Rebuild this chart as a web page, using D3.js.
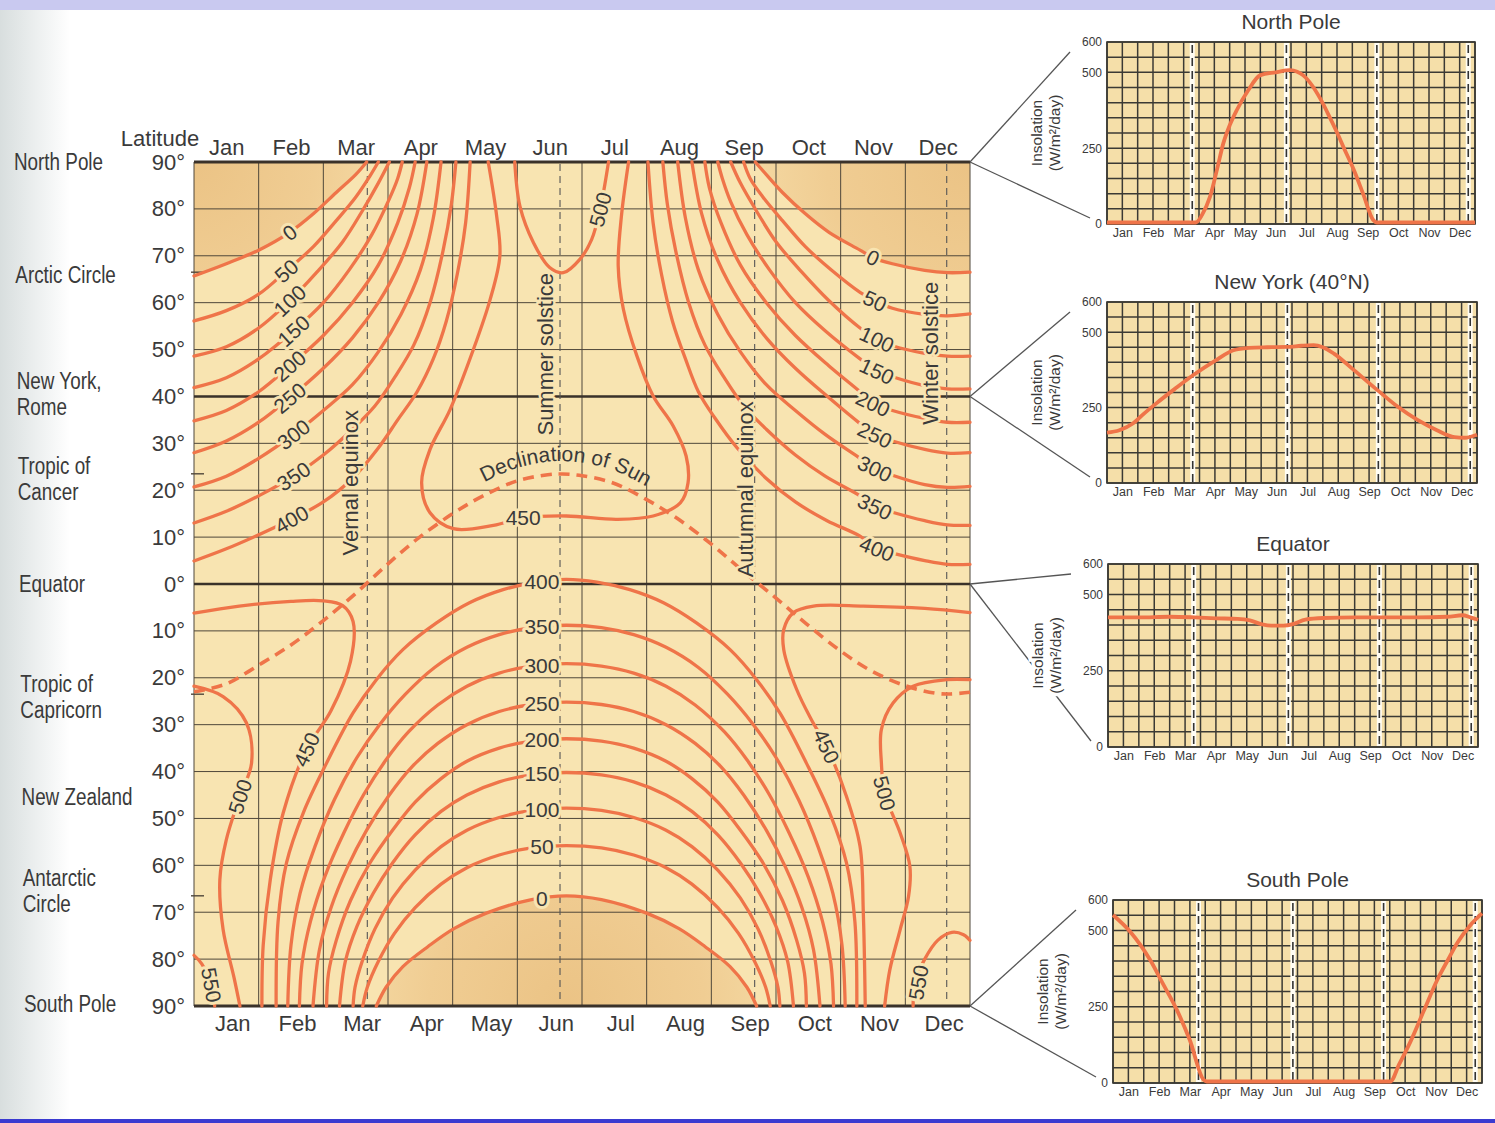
<!DOCTYPE html>
<html>
<head>
<meta charset="utf-8">
<script src="https://cdn.jsdelivr.net/npm/d3@7"></script>
<style>
  body { margin: 0; background: #fff; }
  svg text { font-family: "Liberation Sans", Arial, Helvetica, sans-serif; }
</style>
</head>
<body>
<div id="app"></div>
<script>
const W = 1495, H = 1123;

// ---- data ---------------------------------------------------------------
const monthNames = ["Jan","Feb","Mar","Apr","May","Jun","Jul","Aug","Sep","Oct","Nov","Dec"];
const latTicks = d3.range(90, -91, -10);
const keyDates = [2.68, 5.66, 8.67, 11.64];        // equinoxes / solstices (months)
const smallKeyDates = [2.78, 5.85, 8.8, 11.78];
const circleTicks = [66.5, 23.5, -23.5, -66.5];

const places = [
  [90, ["North Pole"]], [66, ["Arctic Circle"]], [40.5, ["New York,", "Rome"]],
  [22.5, ["Tropic of", "Cancer"]], [0, ["Equator"]], [-24, ["Tropic of", "Capricorn"]],
  [-45.3, ["New Zealand"]], [-65.5, ["Antarctic", "Circle"]], [-89.6, ["South Pole"]]
];

const events = [
  ["Vernal equinox", 2.41, 21.6], ["Summer solstice", 5.43, 49],
  ["Autumnal equinox", 8.52, 20.2], ["Winter solstice", 11.38, 49.2]
];

// declination of the sun [month, deg]
const declination = [[0,-23],[0.5,-21.3],[1,-17.3],[1.5,-13],[2,-7.8],[2.5,-2],[3,4.3],[3.47,9.8],
  [4,15],[4.47,18.8],[5,22],[5.47,23.3],[5.7,23.45],[6,23.1],[6.47,21.6],[7,18],[7.47,14],[8,8.5],
  [8.47,3],[9,-3],[9.47,-8.5],[10,-14.3],[10.47,-18.5],[11,-21.7],[11.47,-23.3],[11.7,-23.45],[12,-23.1]];

// contours [level, [[month, lat], ...]]
const northSpring = [
  [0,   [[0,65.7],[0.5,68.3],[1.0,71.2],[1.48,75],[1.85,79],[2.2,83.5],[2.5,87.3],[2.67,90]]],
  [50,  [[0,56.1],[0.5,58.3],[1.0,61.8],[1.43,66.8],[1.85,72],[2.2,77.5],[2.5,82.5],[2.72,87],[2.85,90]]],
  [100, [[0,48.6],[0.5,50.6],[1.0,54.6],[1.48,60.4],[1.9,66.5],[2.3,73],[2.6,79.5],[2.85,85.5],[3.02,90]]],
  [150, [[0,41.9],[0.5,44],[1.0,48],[1.54,54],[2.0,60],[2.4,67],[2.75,74.5],[3.0,81.5],[3.15,86.5],[3.22,90]]],
  [200, [[0,34.8],[0.5,37],[1.0,41],[1.48,46.5],[2.0,53],[2.45,60],[2.85,68],[3.15,77],[3.33,84.5],[3.42,90]]],
  [250, [[0,28],[0.5,30.5],[1.0,34.5],[1.48,39.7],[2.0,46],[2.45,52.5],[2.85,60],[3.2,69],[3.45,79],[3.6,90]]],
  [300, [[0,20.7],[0.5,23],[1.0,26.8],[1.54,31.9],[2.0,37],[2.45,42.5],[2.85,49.5],[3.2,57.5],[3.5,67],[3.7,78],[3.82,90]]],
  [350, [[0,13],[0.5,15.5],[1.0,18.8],[1.54,23],[2.0,27.5],[2.45,33],[2.8,38],[3.1,44],[3.4,51],[3.65,60],[3.85,71],[3.98,81],[4.05,90]]],
  [400, [[0,4.9],[0.5,7.5],[1.0,10.5],[1.51,13.8],[2.0,17.5],[2.45,22.5],[2.85,29],[3.15,35],[3.45,41],[3.7,48],[3.9,56],[4.07,66],[4.2,77],[4.27,90]]]
];

const northAutumn = [
  [0,   [[8.68,90],[8.85,87.3],[9.1,83.5],[9.45,79],[9.82,75],[10.3,71.2],[10.5,69.6],[10.8,68.3],[11.3,66.9],[11.65,66.4],[12,66.5]]],
  [50,  [[8.5,90],[8.6,86.5],[8.8,82.5],[9.1,77.5],[9.45,72],[9.87,66.8],[10.3,62.2],[10.53,60.4],[10.8,58.8],[11.3,57.5],[11.65,57.2],[12,57.6]]],
  [100, [[8.3,90],[8.45,85.5],[8.7,79.5],[9.0,73],[9.4,66.5],[9.82,60.4],[10.3,54.6],[10.56,52.2],[10.8,50.8],[11.3,49.2],[11.65,48.6],[12,48.6]]],
  [150, [[8.1,90],[8.17,86.5],[8.3,81.5],[8.55,74.5],[8.9,67],[9.3,60],[9.76,54],[10.3,48],[10.56,45.4],[10.8,44.2],[11.3,42.3],[11.65,41.6],[12,41.6]]],
  [200, [[7.9,90],[7.97,84.5],[8.15,77],[8.45,68],[8.85,60],[9.3,53],[9.82,46.5],[10.3,41],[10.5,38.5],[10.8,37],[11.3,35.3],[11.65,34.5],[12,34.5]]],
  [250, [[7.7,90],[7.85,79],[8.1,69],[8.45,60],[8.85,52.5],[9.3,46],[9.82,39.7],[10.3,34.2],[10.53,31.8],[10.8,30.5],[11.3,28.7],[11.65,27.9],[12,28]]],
  [300, [[7.48,90],[7.6,78],[7.8,67],[8.1,57.5],[8.45,49.5],[8.85,42.5],[9.3,37],[9.76,31.9],[10.3,26.8],[10.53,24.6],[10.8,23.2],[11.3,21.2],[11.65,20.6],[12,20.8]]],
  [350, [[7.25,90],[7.32,81],[7.45,71],[7.65,60],[7.9,51],[8.2,44],[8.5,38],[8.85,33],[9.3,27.5],[9.76,23],[10.3,18.8],[10.53,16.5],[10.8,15.3],[11.3,13.5],[11.65,12.6],[12,12.5]]],
  [400, [[7.02,90],[7.1,77],[7.23,66],[7.4,56],[7.6,48],[7.8,41],[8.05,35.5],[8.4,29],[8.85,22.5],[9.3,17.5],[9.79,13.5],[10.3,10.2],[10.56,7.5],[10.8,6.6],[11.3,5],[11.65,4.2],[12,4.2]]]
];

const northSummer = [
  [450, [[4.55,90],[4.68,78.5],[4.73,70],[4.58,60.7],[4.32,50],[3.96,37.2],[3.65,28.7],[3.52,21.6],[3.65,15.2],
         [4.01,11.8],[4.63,12.5],[5.09,14.1],[5.76,14.5],[6.54,13.8],[7.1,14.5],[7.52,17.3],[7.64,21.6],[7.61,27.3],
         [7.41,33.7],[7.1,40.1],[6.85,48.6],[6.64,58.6],[6.56,67.8],[6.61,78.5],[6.72,90]]],
  [500, [[4.96,90],[5.04,80.6],[5.25,72.8],[5.5,67.5],[5.71,66.4],[5.97,69.3],[6.15,73.5],[6.28,79.9],[6.41,90]]]
];

// southern arches: left leg (bottom -> top) and right leg (top -> bottom)
const archLevels = [0, 50, 100, 150, 200, 250, 300, 350, 400];
const archLeft = [
  [[2.82,-90],[2.97,-86],[3.23,-81.6],[3.62,-77.3],[4.02,-73.5],[4.52,-70.2],[5.22,-67.3]],
  [[2.61,-90],[2.68,-86],[2.85,-80.5],[3.1,-74.5],[3.42,-69],[3.82,-64],[4.22,-60.5],[4.72,-57.8],[5.22,-56.3]],
  [[2.46,-90],[2.49,-86],[2.6,-80.5],[2.8,-73.5],[3.07,-67],[3.42,-61],[3.82,-56],[4.22,-52.5],[4.72,-49.8],[5.22,-48.3]],
  [[2.25,-90],[2.34,-80.5],[2.52,-73],[2.77,-66],[3.07,-59.5],[3.42,-53.5],[3.82,-48.5],[4.22,-45],[4.72,-42.2],[5.22,-40.7]],
  [[2.05,-90],[2.08,-83],[2.2,-76],[2.42,-67.5],[2.72,-59.5],[3.07,-52.5],[3.42,-46.5],[3.82,-41.5],[4.22,-37.8],[4.72,-35],[5.22,-33.5]],
  [[1.84,-90],[1.94,-78],[2.12,-69],[2.37,-60.5],[2.67,-52.5],[3.02,-45],[3.37,-39],[3.77,-34],[4.22,-30],[4.72,-27.2],[5.22,-25.7]],
  [[1.63,-90],[1.67,-81],[1.8,-72],[2.02,-62.5],[2.32,-53],[2.62,-45],[2.97,-37.5],[3.32,-31.5],[3.77,-25.8],[4.22,-21.8],[4.72,-19],[5.22,-17.5]],
  [[1.45,-90],[1.5,-77],[1.64,-66],[1.87,-56],[2.17,-46],[2.52,-37],[2.87,-30],[3.27,-23.5],[3.72,-17.8],[4.22,-13.5],[4.72,-10.8],[5.22,-9.3]],
  [[1.27,-90],[1.3,-72],[1.43,-59.5],[1.69,-48.8],[2.05,-38.2],[2.46,-27.5],[2.82,-20.4],[3.23,-14],[3.75,-8.3],[4.26,-4],[4.78,-1.2],[5.29,0.4]]
];
const archRight = [
  [[5.76,-66.5],[6.3,-67.3],[7.0,-70.2],[7.5,-73.5],[7.9,-77.3],[8.29,-81.6],[8.55,-86],[8.7,-90]],
  [[5.76,-55.8],[6.3,-56.3],[6.8,-57.8],[7.3,-60.5],[7.7,-64],[8.1,-69],[8.42,-74.5],[8.67,-80.5],[8.84,-86],[8.91,-90]],
  [[5.76,-47.8],[6.3,-48.3],[6.8,-49.8],[7.3,-52.5],[7.7,-56],[8.1,-61],[8.45,-67],[8.72,-73.5],[8.92,-80.5],[9.03,-86],[9.06,-90]],
  [[5.76,-40.2],[6.3,-40.7],[6.8,-42.2],[7.3,-45],[7.7,-48.5],[8.1,-53.5],[8.45,-59.5],[8.75,-66],[9.0,-73],[9.18,-80.5],[9.27,-90]],
  [[5.76,-33],[6.3,-33.5],[6.8,-35],[7.3,-37.8],[7.7,-41.5],[8.1,-46.5],[8.45,-52.5],[8.8,-59.5],[9.1,-67.5],[9.32,-76],[9.44,-83],[9.47,-90]],
  [[5.76,-25.2],[6.3,-25.7],[6.8,-27.2],[7.3,-30],[7.75,-34],[8.15,-39],[8.5,-45],[8.85,-52.5],[9.15,-60.5],[9.4,-69],[9.58,-78],[9.68,-90]],
  [[5.76,-17],[6.3,-17.5],[6.8,-19],[7.3,-21.8],[7.75,-25.8],[8.2,-31.5],[8.55,-37.5],[8.9,-45],[9.2,-53],[9.5,-62.5],[9.72,-72],[9.85,-81],[9.89,-90]],
  [[5.76,-8.8],[6.3,-9.3],[6.8,-10.8],[7.3,-13.5],[7.8,-17.8],[8.25,-23.5],[8.65,-30],[9.0,-37],[9.35,-46],[9.65,-56],[9.88,-66],[10.02,-77],[10.07,-90]],
  [[5.76,1],[6.23,0.4],[6.74,-1.2],[7.26,-4],[7.77,-8.3],[8.29,-14],[8.7,-20.4],[9.06,-27.5],[9.47,-38.2],[9.83,-48.8],[10.09,-59.5],[10.22,-72],[10.25,-90]]
];

const southSummer = [
  [450, [[0,-6.2],[0.7,-4.7],[1.5,-3.7],[2.0,-3.6],[2.3,-4.6],[2.46,-8],[2.42,-16.5],[2.12,-27],[1.74,-35.3],[1.38,-48.8],[1.18,-63],[1.07,-77],[1.05,-90]]],
  [450, [[12,-6.1],[11.3,-5.2],[10.35,-4.7],[9.58,-4.7],[9.27,-6.1],[9.12,-9.7],[9.12,-14],[9.32,-22.5],[9.55,-29],[9.78,-34.6],[10.09,-45.3],[10.3,-56],[10.35,-70],[10.38,-90]]],
  [500, [[0,-21.8],[0.45,-24],[0.81,-29.6],[0.89,-38.2],[0.71,-45.3],[0.5,-54.5],[0.4,-63],[0.45,-73.7],[0.62,-84],[0.71,-90]]],
  [500, [[12,-20.4],[11.64,-20.4],[11.12,-21.8],[10.81,-25.4],[10.63,-31],[10.63,-38.2],[10.68,-44.6],[10.92,-53.1],[11.07,-60.2],[11.05,-66.6],[10.92,-73.7],[10.76,-82.3],[10.68,-90]]],
  [550, [[0,-79.2],[0.12,-81],[0.25,-85],[0.32,-90]]],
  [550, [[11.12,-90],[11.15,-85],[11.3,-80],[11.5,-76],[11.72,-74.3],[11.9,-74.8],[12,-76]]]
];

// contour labels [text, month, lat, angle]
const contourLabels = [
  [0,1.48,75,-38],[50,1.43,66.8,-42],[100,1.48,60.4,-43],[150,1.54,54,-42],[200,1.48,46.5,-41],
  [250,1.48,39.7,-40],[300,1.54,31.9,-38],[350,1.54,23,-34],[400,1.51,13.8,-30],
  [0,10.5,69.6,25],[50,10.53,60.4,25],[100,10.56,52.2,25],[150,10.56,45.4,25],[200,10.5,38.5,25],
  [250,10.53,31.8,25],[300,10.53,24.6,25],[350,10.53,16.5,25],[400,10.56,7.5,22],
  [450,5.09,14.1,0],[500,6.28,79.9,-75],
  [400,5.38,0.6,0],[350,5.38,-9.1,0],[300,5.38,-17.3,0],[250,5.38,-25.4,0],[200,5.38,-33.2,0],
  [150,5.38,-40.4,0],[100,5.38,-48,0],[50,5.38,-56,0],[0,5.38,-67.1,0],
  [450,1.74,-35.3,-65],[500,0.71,-45.3,-72],[550,0.27,-85.5,80],
  [450,9.78,-34.6,65],[500,10.68,-44.6,75],[550,11.2,-85,-80]
];

// small panels: [month, insolation W/m2]
const npSeries = [[0,5],[1,5],[2,5],[2.9,5],[3.1,30],[3.36,90],[3.6,185],[3.79,265],[4.0,325],[4.23,375],[4.6,440],
  [4.99,490],[5.5,500],[5.97,507],[6.2,502],[6.4,490],[6.7,455],[6.95,414],[7.2,365],[7.49,304],[7.75,245],
  [8.03,183],[8.35,100],[8.68,13],[8.8,5],[10,5],[11,5],[12,5]];
const nySeries = [[0,167],[0.4,175],[0.85,198],[1.2,230],[1.6,264],[2.2,312],[2.8,358],[3.5,405],[4.1,440],
  [4.6,448],[5.2,450],[5.84,451],[6.3,455],[6.7,457],[7.0,450],[7.36,429],[8.0,375],[8.77,308],[9.4,255],
  [10.07,209],[10.7,175],[11.27,152],[11.6,150],[12,160]];
const eqSeries = [[0,425],[1,425],[2,427],[2.8,425],[3.5,422],[4.2,420],[4.6,415],[5.0,402],[5.3,398],[5.7,398],
  [6.0,403],[6.4,418],[7,423],[8,425],[9,425],[10,425],[11,427],[11.5,432],[11.75,425],[12,417]];
const spSeries = [[0,551],[0.56,496],[1.21,403],[1.6,330],[2.08,239],[2.5,140],[2.95,10],[3.05,5],[4,5],[5,5],
  [6,5],[7,5],[8,5],[9.02,5],[9.3,60],[9.67,135],[10.1,235],[10.54,337],[10.9,405],[11.19,458],[11.6,515],[12,556]];
const yTicksSmall = [0, 250, 500, 600];

const panels = [
  { title: "North Pole", lat: 90, series: npSeries },
  { title: "New York (40°N)", lat: 40, series: nySeries },
  { title: "Equator", lat: 0, series: eqSeries },
  { title: "South Pole", lat: -90, series: spSeries }
];
// layout of the four panels [left, top, right, bottom]
const panelBoxes = [[1107,42,1475,224],[1107,302,1477,483],[1108,564,1478,747],[1113,900,1482,1083]];

// ---- drawing ------------------------------------------------------------
const BG = "#f8e4b1", RED = "#ef7449", INK = "#3a3a3a", GRID = "#4f473a";

const svg = d3.select("#app").append("svg").attr("width", W).attr("height", H);
const defs = svg.append("defs");

const edge = defs.append("linearGradient").attr("id", "scanEdge").attr("x1", 0).attr("x2", 1);
edge.append("stop").attr("offset", "0%").attr("stop-color", "#d8dede");
edge.append("stop").attr("offset", "100%").attr("stop-color", "#ffffff");

svg.append("rect").attr("width", W).attr("height", H).attr("fill", "#fff");
svg.append("rect").attr("width", 70).attr("height", H).attr("fill", "url(#scanEdge)");
svg.append("rect").attr("width", W).attr("height", 10).attr("fill", "#c9c9f0");
svg.append("rect").attr("y", H - 4).attr("width", W).attr("height", 4).attr("fill", "#3a3ad0");

const x = d3.scaleLinear().domain([0, 12]).range([194, 970]);
const y = d3.scaleLinear().domain([90, -90]).range([162, 1006]);

const line = d3.line().x(d => x(d[0])).y(d => y(d[1])).curve(d3.curveCatmullRom.alpha(0.5));

function nightGradient(id, cx, cy, r) {
  const g = defs.append("radialGradient").attr("id", id).attr("gradientUnits", "userSpaceOnUse")
    .attr("cx", cx).attr("cy", cy).attr("r", r);
  g.append("stop").attr("offset", "0%").attr("stop-color", "#ebc385");
  g.append("stop").attr("offset", "55%").attr("stop-color", "#f0cd93");
  g.append("stop").attr("offset", "100%").attr("stop-color", "#f6dea9");
}
nightGradient("nightNW", x(0), y(90), 220);
nightGradient("nightNE", x(12), y(90), 260);
nightGradient("nightS", x(5.76), y(-90), 250);

const main = svg.append("g");
main.append("rect").attr("x", x(0)).attr("y", y(90))
  .attr("width", x(12) - x(0)).attr("height", y(-90) - y(90)).attr("fill", BG);

// polar night shading (inside the zero contours)
const archs = archLevels.map((lv, i) => [lv, archLeft[i].concat(archRight[i])]);
main.append("path").attr("d", line(northSpring[0][1]) + `L${x(0)},${y(90)}Z`).attr("fill", "url(#nightNW)");
main.append("path").attr("d", line(northAutumn[0][1]) + `L${x(12)},${y(90)}Z`).attr("fill", "url(#nightNE)");
main.append("path").attr("d", line(archs[0][1]) + "Z").attr("fill", "url(#nightS)");

// grid
const grid = main.append("g").attr("stroke", GRID).attr("stroke-width", 1);
grid.selectAll("line.v").data(d3.range(0, 13)).join("line").attr("class", "v")
  .attr("x1", d => x(d)).attr("x2", d => x(d)).attr("y1", y(90)).attr("y2", y(-90));
grid.selectAll("line.h").data(latTicks).join("line").attr("class", "h")
  .attr("x1", x(0)).attr("x2", x(12)).attr("y1", d => y(d)).attr("y2", d => y(d));
grid.selectAll("line.t").data(circleTicks).join("line").attr("class", "t")
  .attr("x1", x(0) - 3).attr("x2", x(0) + 10).attr("y1", d => y(d)).attr("y2", d => y(d))
  .attr("stroke-width", 1.4);

main.append("g").attr("stroke", "#3a322a").selectAll("line").data([90, 40, 0, -90]).join("line")
  .attr("x1", x(0)).attr("x2", x(12)).attr("y1", d => y(d)).attr("y2", d => y(d))
  .attr("stroke-width", d => Math.abs(d) === 90 ? 3 : 2.4);

main.append("g").attr("stroke", "#555").attr("stroke-width", 1.1).attr("stroke-dasharray", "7,5")
  .selectAll("line").data(keyDates).join("line")
  .attr("x1", d => x(d)).attr("x2", d => x(d)).attr("y1", y(90) + 2).attr("y2", y(-90) - 2);

// contours
const allContours = northSpring.concat(northAutumn, northSummer, archs, southSummer);
main.append("g").attr("fill", "none").attr("stroke", RED).attr("stroke-width", 3.3)
  .attr("stroke-linecap", "round")
  .selectAll("path").data(allContours).join("path")
  .attr("d", d => line(d[1]));

main.append("path").attr("d", line(declination)).attr("fill", "none").attr("stroke", RED)
  .attr("stroke-width", 3.6).attr("stroke-dasharray", "11,7");

// text helpers
function halo(sel, w) {
  return sel.attr("stroke", BG).attr("stroke-width", w).attr("stroke-linejoin", "round")
    .attr("paint-order", "stroke");
}

halo(main.append("g").attr("fill", INK).attr("font-size", 21)
  .selectAll("text").data(contourLabels).join("text")
  .attr("transform", d => `translate(${x(d[1])},${y(d[2])}) rotate(${d[3]})`)
  .attr("text-anchor", "middle").attr("dy", "0.36em")
  .text(d => d[0]), 6);

halo(main.append("g").attr("fill", INK).attr("font-size", 22)
  .selectAll("text").data(events).join("text")
  .attr("transform", d => `translate(${x(d[1])},${y(d[2])}) rotate(-90)`)
  .attr("text-anchor", "middle").attr("dy", "0.36em")
  .text(d => d[0]), 5);

// "Declination of Sun" running along the curve
const declAbove = d3.line().x(d => x(d[0])).y(d => y(d[1]) - 13).curve(d3.curveCatmullRom.alpha(0.5));
defs.append("path").attr("id", "declPath")
  .attr("d", declAbove(declination.filter(d => d[0] >= 3.47 && d[0] <= 8.0)));
main.append("text").attr("font-size", 21).attr("fill", INK)
  .append("textPath").attr("href", "#declPath").attr("startOffset", "50%")
  .attr("text-anchor", "middle").text("Declination of Sun");

// axes
function styleAxis(g, size) {
  g.select(".domain").remove();
  g.attr("font-family", null).attr("font-size", size).attr("color", INK);
}
main.append("g").attr("transform", `translate(0,${y(90)})`)
  .call(d3.axisTop(x).tickValues(d3.range(0.5, 12, 1)).tickFormat((d, i) => monthNames[i]).tickSize(0).tickPadding(7))
  .call(g => styleAxis(g, 22));
main.append("g").attr("transform", `translate(6,${y(-90)})`)
  .call(d3.axisBottom(x).tickValues(d3.range(0.5, 12, 1)).tickFormat((d, i) => monthNames[i]).tickSize(0).tickPadding(9))
  .call(g => styleAxis(g, 22));
main.append("g").attr("transform", `translate(${x(0)},0)`)
  .call(d3.axisLeft(y).tickValues(latTicks).tickFormat(d => Math.abs(d) + "°").tickSize(0).tickPadding(9))
  .call(g => styleAxis(g, 22));

main.append("text").attr("x", 160).attr("y", 146).attr("text-anchor", "middle")
  .attr("font-size", 22).attr("fill", INK).text("Latitude");

// place names (condensed)
const placeG = main.append("g").attr("fill", INK).attr("font-size", 23);
places.forEach(([lat, lines]) => {
  const px = 14 + (90 - lat) / 18;
  const t = placeG.append("text")
    .attr("transform", `translate(${px},${y(lat)}) scale(0.82,1)`);
  lines.forEach((s, i) => {
    t.append("tspan").attr("x", 0)
      .attr("y", (i - (lines.length - 1) / 2) * 26)
      .attr("dy", "0.36em").text(s);
  });
});

// ---- small panels -------------------------------------------------------
panels.forEach((p, k) => {
  const [x0, y0, x1, y1] = panelBoxes[k];
  const sx = d3.scaleLinear().domain([0, 12]).range([x0, x1]);
  const sy = d3.scaleLinear().domain([0, 600]).range([y1, y0]);
  const g = svg.append("g");

  // fan from the main chart
  const ox = x(12), oy = y(p.lat);
  g.append("g").attr("stroke", "#555").attr("stroke-width", 1.3)
    .selectAll("line").data([[x0 - 37, y0 + 10], [x0 - 17, y1 - 6]]).join("line")
    .attr("x1", ox).attr("y1", oy).attr("x2", d => d[0]).attr("y2", d => d[1]);

  g.append("rect").attr("x", x0).attr("y", y0).attr("width", x1 - x0).attr("height", y1 - y0)
    .attr("fill", "#f5dfa9");

  const gg = g.append("g").attr("stroke", "#3b3a34").attr("stroke-width", 1.5);
  gg.selectAll("line.v").data(d3.range(0, 12.01, 0.5)).join("line").attr("class", "v")
    .attr("x1", d => sx(d)).attr("x2", d => sx(d)).attr("y1", y0).attr("y2", y1);
  gg.selectAll("line.h").data(d3.range(0, 601, 50)).join("line").attr("class", "h")
    .attr("x1", x0).attr("x2", x1).attr("y1", d => sy(d)).attr("y2", d => sy(d));

  g.selectAll("line.kw").data(smallKeyDates).join("line").attr("class", "kw")
    .attr("x1", d => sx(d)).attr("x2", d => sx(d)).attr("y1", y0 + 1).attr("y2", y1 - 1)
    .attr("stroke", "#fffdf4").attr("stroke-width", 5);
  g.selectAll("line.kd").data(smallKeyDates).join("line").attr("class", "kd")
    .attr("x1", d => sx(d)).attr("x2", d => sx(d)).attr("y1", y0 + 3).attr("y2", y1 - 1)
    .attr("stroke", "#333").attr("stroke-width", 1.6).attr("stroke-dasharray", "8,5");

  g.append("rect").attr("x", x0).attr("y", y0).attr("width", x1 - x0).attr("height", y1 - y0)
    .attr("fill", "none").attr("stroke", "#3b3a34").attr("stroke-width", 1.6);

  g.append("path").datum(p.series)
    .attr("d", d3.line().x(d => sx(d[0])).y(d => sy(d[1])).curve(d3.curveMonotoneX))
    .attr("fill", "none").attr("stroke", RED).attr("stroke-width", 3.8).attr("stroke-linejoin", "round");

  g.append("g").attr("transform", `translate(${x0},0)`)
    .call(d3.axisLeft(sy).tickValues(yTicksSmall).tickSize(0).tickPadding(5))
    .call(a => styleAxis(a, 12));
  g.append("g").attr("transform", `translate(0,${y1})`)
    .call(d3.axisBottom(sx).tickValues(d3.range(0.5, 12, 1)).tickFormat((d, i) => monthNames[i]).tickSize(0).tickPadding(4))
    .call(a => styleAxis(a, 12.5));

  g.append("text").attr("x", (x0 + x1) / 2).attr("y", y0 - 13).attr("text-anchor", "middle")
    .attr("font-size", 21).attr("fill", INK).text(p.title);

  const yl = g.append("text").attr("transform", `translate(${x0 - 57},${(y0 + y1) / 2}) rotate(-90)`)
    .attr("text-anchor", "middle").attr("font-size", 15.5).attr("fill", INK)
    .attr("stroke", "#fff").attr("stroke-width", 7).attr("paint-order", "stroke");
  yl.append("tspan").attr("x", 0).attr("y", -8).text("Insolation");
  yl.append("tspan").attr("x", 0).attr("y", 10).text("(W/m²/day)");
});
</script>
</body>
</html>
